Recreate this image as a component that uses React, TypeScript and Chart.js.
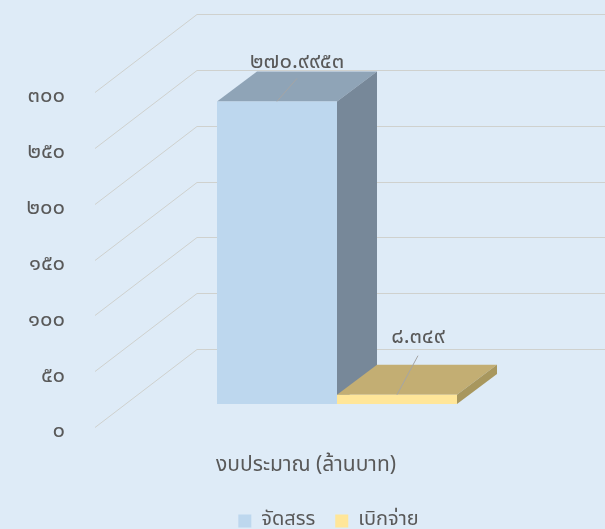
import React, { useEffect, useRef } from "react";
import { Chart, registerables } from "chart.js";
Chart.register(...registerables);

const categories = ["งบประมาณ (ล้านบาท)"];
const seriesNames = ["จัดสรร", "เบิกจ่าย"];
const allocated = [270.9953];
const disbursed = [8.349];
const yMin = 0;
const yMax = 300;
const yStep = 50;

const FONT = "'Noto Sans Thai', Tahoma, 'Noto Sans', 'DejaVu Sans', sans-serif";
const TEXT = "#595959";
const BG = "#DEEBF7";
const GRID = "#CFD1CE";

const frontColors = ["#BDD7EE", "#FFE699"];
const topColors = ["#8FA4B7", "#C3AE73"];
const sideColors = ["#778899", "#A8975E"];
const labelOffsets = [
  { dx: 20, dy: -38, lx: 20, ly: -23 },
  { dx: 21, dy: -56, lx: 21, ly: -39 },
];

const DEPTH = { dx: 40, dy: 30 };
const FLOOR_FRONT = { dx: -30, dy: 23 };
const WALL = { dx: 72, dy: -55 };

const thaiDigits = "๐๑๒๓๔๕๖๗๘๙";
const toThai = (s: string) => s.replace(/[0-9]/g, (d) => thaiDigits[+d]);

const threeD = {
  id: "threeD",
  beforeDraw(chart: any) {
    const ctx = chart.ctx;
    ctx.save();
    ctx.fillStyle = BG;
    ctx.fillRect(0, 0, chart.width, chart.height);
    ctx.restore();
  },
  beforeDatasetsDraw(chart: any) {
    const ctx = chart.ctx;
    const y = chart.scales.y;
    const area = chart.chartArea;
    ctx.save();
    ctx.strokeStyle = GRID;
    ctx.lineWidth = 1;
    y.ticks.forEach((t: any) => {
      const py = Math.round(y.getPixelForValue(t.value)) + 0.5;
      ctx.beginPath();
      ctx.moveTo(area.left + FLOOR_FRONT.dx, py + FLOOR_FRONT.dy);
      ctx.lineTo(area.left + WALL.dx, py + WALL.dy);
      ctx.lineTo(chart.width, py + WALL.dy);
      ctx.stroke();
    });
    chart.data.datasets.forEach((ds: any, i: number) => {
      const meta = chart.getDatasetMeta(i);
      meta.data.forEach((bar: any) => {
        const { x, y: by, base, width } = bar.getProps(["x", "y", "base", "width"], true);
        const l = x - width / 2;
        const r = x + width / 2;
        ctx.fillStyle = topColors[i];
        ctx.beginPath();
        ctx.moveTo(l, by);
        ctx.lineTo(r, by);
        ctx.lineTo(r + DEPTH.dx, by - DEPTH.dy);
        ctx.lineTo(l + DEPTH.dx, by - DEPTH.dy);
        ctx.closePath();
        ctx.fill();
        ctx.fillStyle = sideColors[i];
        ctx.beginPath();
        ctx.moveTo(r, by);
        ctx.lineTo(r + DEPTH.dx, by - DEPTH.dy);
        ctx.lineTo(r + DEPTH.dx, base - DEPTH.dy);
        ctx.lineTo(r, base);
        ctx.closePath();
        ctx.fill();
      });
    });
    ctx.restore();
  },
  afterDatasetsDraw(chart: any) {
    const ctx = chart.ctx;
    ctx.save();
    chart.data.datasets.forEach((ds: any, i: number) => {
      const meta = chart.getDatasetMeta(i);
      meta.data.forEach((bar: any, j: number) => {
        const { x, y: by } = bar.getProps(["x", "y"], true);
        const o = labelOffsets[i];
        ctx.strokeStyle = "#A5A5A5";
        ctx.lineWidth = 1;
        ctx.beginPath();
        ctx.moveTo(x + o.lx, by + o.ly);
        ctx.lineTo(x, by);
        ctx.stroke();
        ctx.fillStyle = TEXT;
        ctx.font = `22px ${FONT}`;
        ctx.textAlign = "center";
        ctx.textBaseline = "middle";
        ctx.fillText(toThai(String(ds.data[j])), x + o.dx, by + o.dy);
      });
    });
    ctx.restore();
  },
};

export default function App() {
  const ref = useRef<HTMLCanvasElement>(null);
  useEffect(() => {
    document.body.style.margin = "0";
    document.body.style.background = BG;
    const chart = new Chart(ref.current!, {
      type: "bar",
      data: {
        labels: categories,
        datasets: [
          { label: seriesNames[0], data: allocated, backgroundColor: frontColors[0], borderWidth: 0 },
          { label: seriesNames[1], data: disbursed, backgroundColor: frontColors[1], borderWidth: 0 },
        ],
      },
      options: {
        responsive: true,
        maintainAspectRatio: false,
        animation: false,
        datasets: { bar: { categoryPercentage: 0.566, barPercentage: 1 } },
        layout: { padding: { top: 69, right: -52, left: 0, bottom: -12 } },
        scales: {
          x: {
            grid: { display: false, drawTicks: false },
            border: { display: false },
            ticks: { padding: 50, labelOffset: -31, color: TEXT, font: { family: FONT, size: 21 } },
            afterFit: (s: any) => { s.height = 87; },
          },
          y: {
            min: yMin,
            max: yMax,
            grid: { display: false, drawTicks: false },
            border: { display: false },
            ticks: {
              stepSize: yStep,
              padding: 60,
              labelOffset: 29,
              color: TEXT,
              font: { family: FONT, size: 22, lineHeight: 0.8 },
              callback: (v: any) => toThai(String(v)),
            },
            afterFit: (s: any) => { s.width = 125; },
          },
          y2: {
            position: "right",
            display: true,
            grid: { display: false, drawTicks: false },
            border: { display: false },
            ticks: { display: false },
            afterFit: (s: any) => { s.width = 108; },
          },
        },
        plugins: {
          tooltip: { enabled: false },
          legend: {
            position: "bottom",
            labels: { boxWidth: 13, boxHeight: 13, padding: 20, color: TEXT, font: { family: FONT, size: 20 } },
          },
        },
      },
      plugins: [threeD],
    });
    return () => chart.destroy();
  }, []);
  return (
    <div style={{ width: 605, height: 529, position: "relative" }}>
      <canvas ref={ref} />
    </div>
  );
}
